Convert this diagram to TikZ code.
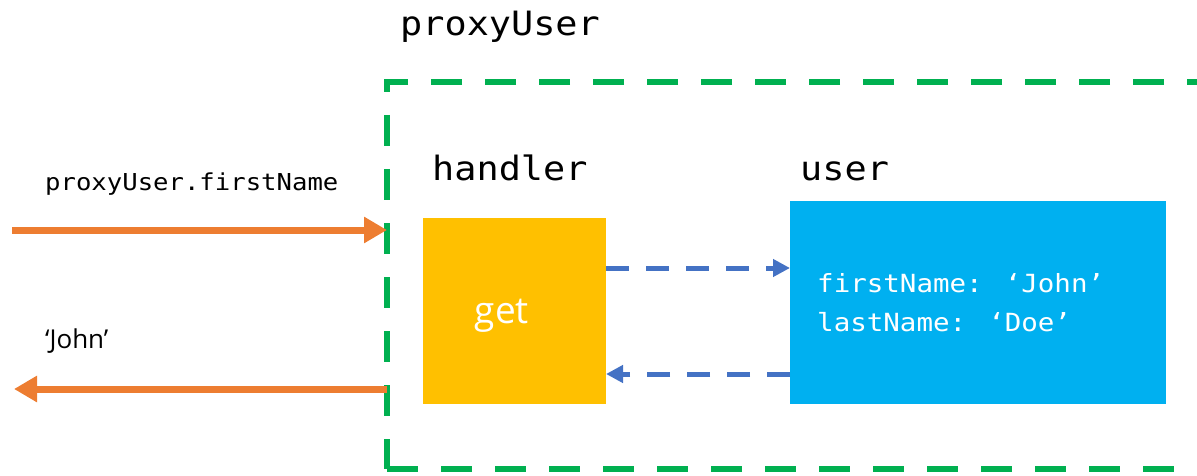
\documentclass[tikz,border=0pt]{standalone}
\usepackage{fontspec}
\usetikzlibrary{arrows.meta}
\newfontfamily\codefont{DejaVu Sans Mono}[FakeStretch=1.1]
\newfontfamily\labelfont{Open Sans}
\definecolor{frameGreen}{HTML}{00B050}
\definecolor{callOrange}{HTML}{ED7D31}
\definecolor{traceBlue}{HTML}{4472C4}
\definecolor{handlerGold}{HTML}{FFC000}
\definecolor{targetCyan}{HTML}{00B0F0}
\tikzset{
  container/.style={draw=frameGreen, line width=6pt, dash pattern=on 31pt off 23pt,
    inner sep=0pt, outer sep=0pt},
  solidbox/.style={inner sep=0pt, outer sep=0pt},
  call/.style={draw=callOrange, line width=7pt, -{Triangle[length=23pt,width=25pt]}},
  trace/.style={draw=traceBlue, line width=5pt, dash pattern=on 23pt off 17pt,
    -{Triangle[length=17pt,width=17pt]}},
  caption/.style={inner sep=0pt, anchor=base west, font=\codefont\fontsize{33.5}{38}\selectfont},
  codetext/.style={inner sep=0pt, anchor=base west, font=\codefont\fontsize{23.3}{30}\selectfont},
  valuetext/.style={inner sep=0pt, anchor=base west, text=white, font=\codefont\fontsize{25}{30}\selectfont},
}
\begin{document}
\begin{tikzpicture}[x=1pt, y=-1pt]
  \useasboundingbox (0,0) rectangle (1197,476);
  \clip (0,0) rectangle (1197,476);

  % proxy object frame, running off the right edge
  \node[container, minimum width=843pt, minimum height=387pt] (proxy) at (808.5,275.5) {};
  \node[caption] (proxyname) at (400,36) {proxyUser};

  % handler and target boxes
  \node[solidbox, fill=handlerGold, minimum width=183pt, minimum height=186pt] (handler) at (514.5,311) {};
  \node[inner sep=0pt, anchor=base, text=white, font=\labelfont\fontsize{37}{42}\selectfont] (gettrap) at (502,323) {get};
  \node[caption] (handlername) at (432,180) {handler};

  \node[solidbox, fill=targetCyan, minimum width=376pt, minimum height=203pt] (user) at (978,302.5) {};
  \node[caption] (username) at (800,180) {user};
  \node[valuetext] (firstname) at (817,292) {firstName: ‘John’};
  \node[valuetext] (lastname) at (817,331) {lastName: ‘Doe’};

  % handler forwards the lookup to the target and gets the value back
  \coordinate (fwd) at (0,268);
  \coordinate (back) at (0,374);
  \draw[trace] (handler.east |- fwd) -- (user.west |- fwd);
  \draw[trace] (user.west |- back) -- (handler.east |- back);

  % property access from outside and the returned value
  \coordinate (callstart) at (12,230);
  \coordinate (resultend) at (14,389);
  \draw[call] (callstart) -- (proxy.west |- callstart);
  \draw[call] (proxy.west |- resultend) -- (resultend);
  \node[codetext] (access) at (45,190) {proxyUser.firstName};
  \node[inner sep=0pt, anchor=base west, font=\labelfont\fontsize{26}{30}\selectfont] (result) at (45,348) {‘John’};
\end{tikzpicture}
\end{document}
